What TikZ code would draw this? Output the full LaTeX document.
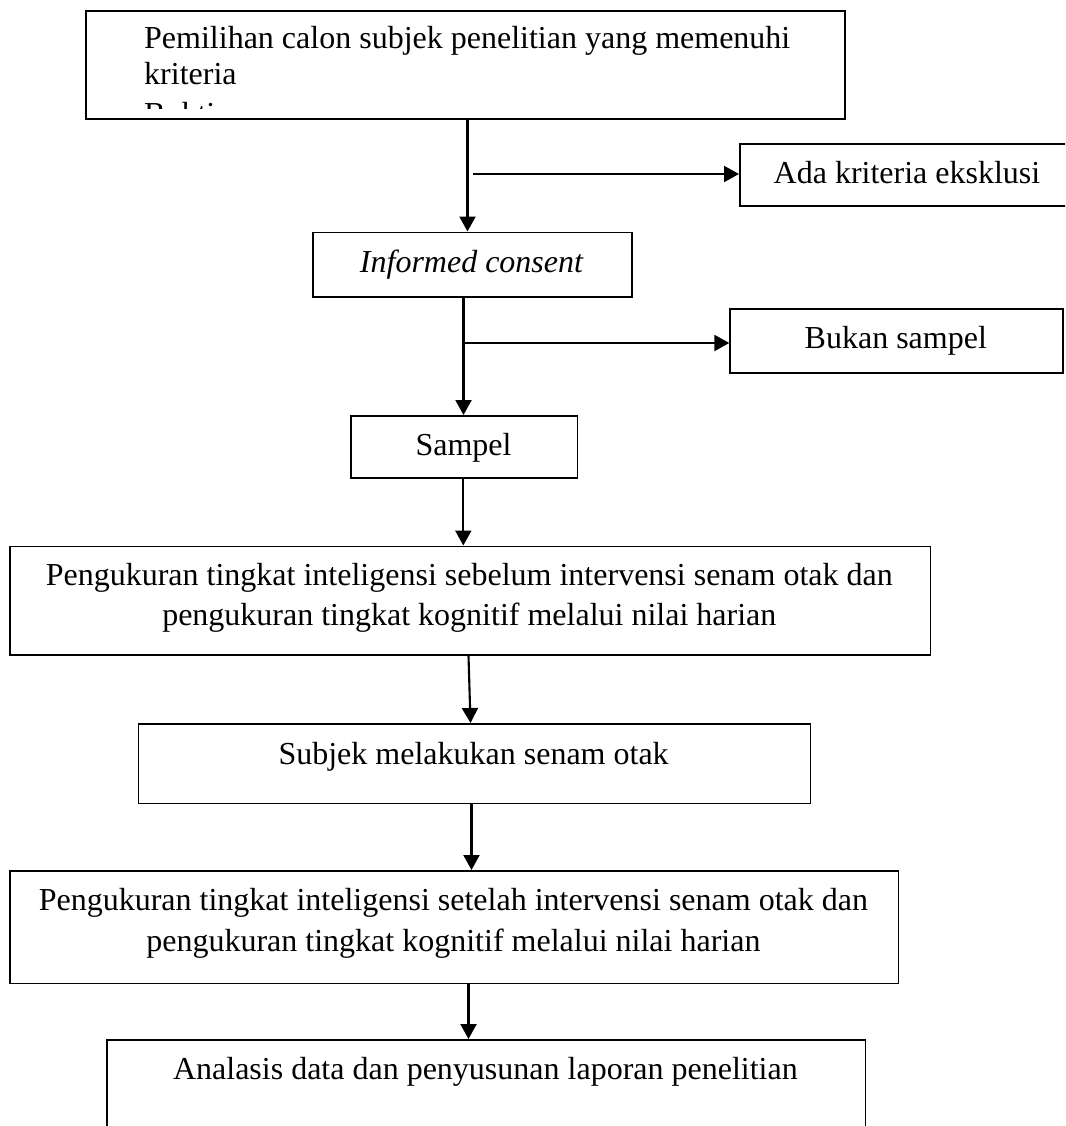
\documentclass[tikz,border=0pt]{standalone}
\usepackage{fontspec}
\setmainfont{Liberation Serif}
\usetikzlibrary{arrows.meta}
\begin{document}
\begin{tikzpicture}[x=1pt,y=-1pt,
  box/.style={draw=black, line width=1.6pt, rectangle, inner sep=0pt, anchor=north west},
  txt/.style={inner sep=0pt, font=\fontsize{32pt}{38pt}\selectfont, anchor=base},
  arr/.style={line width=2.1pt, -{Triangle[length=15pt,width=16pt]}}]
\clip (0,0) rectangle (1065,1126);
\fill[white] (0,0) rectangle (1065,1126);
% boxes
\node[box, minimum width=759pt, minimum height=108pt] (b1) at (85,10) {};
\node[box, minimum width=336pt, minimum height=62pt] (ada) at (739,143) {};
\node[box, minimum width=319pt, minimum height=64.5pt] (b2) at (312,231.5) {};
\node[box, minimum width=333pt, minimum height=64pt] (bukan) at (729.3,308.3) {};
\node[box, minimum width=226.7pt, minimum height=62.3pt] (b3) at (350,415) {};
\node[box, minimum width=920.6pt, minimum height=108.5pt] (b4) at (9,545.5) {};
\node[box, minimum width=671.7pt, minimum height=79.7pt] (b5) at (137.8,723) {};
\node[box, minimum width=888.7pt, minimum height=112.7pt] (b6) at (9,870) {};
\node[box, minimum width=758.7pt, minimum height=130pt] (b7) at (106,1039) {};
% texts
\begin{scope}
\clip (87,12) rectangle (842,108.5);
\node[txt, anchor=base west] (t1a) at (144,49) {Pemilihan calon subjek penelitian yang memenuhi};
\node[txt, anchor=base west] (t1b) at (144,85) {kriteria};
\node[txt, anchor=base west] (t1c) at (144,125) {Bukti};
\end{scope}
\node[txt] (tada) at (907,183) {Ada kriteria eksklusi};
\node[txt] (t2) at (471.5,272.5) {\itshape Informed consent};
\node[txt] (tbukan) at (895.8,348) {Bukan sampel};
\node[txt] (t3) at (463.5,455) {Sampel};
\node[txt] (t4a) at (469.3,585) {Pengukuran tingkat inteligensi sebelum intervensi senam otak dan};
\node[txt] (t4b) at (469.3,625) {pengukuran tingkat kognitif melalui nilai harian};
\node[txt] (t5) at (473.6,764) {Subjek melakukan senam otak};
\node[txt] (t6a) at (453.4,910) {Pengukuran tingkat inteligensi setelah intervensi senam otak dan};
\node[txt] (t6b) at (453.4,951.7) {pengukuran tingkat kognitif melalui nilai harian};
\node[txt] (t7) at (485.4,1079) {Analasis data dan penyusunan laporan penelitian};
% connectors
\draw[arr] (b1.south -| 467.5,0) -- (b2.north -| 467.5,0);
\coordinate (c1) at (473,174);
\draw[arr] (c1) -- (ada.west |- c1);
\draw[arr] (b2.south -| 463.5,0) -- (b3.north -| 463.5,0);
\coordinate (c2) at (463.5,343);
\draw[arr] (c2) -- (bukan.west |- c2);
\draw[arr] (b3.south -| 463.3,0) -- (b4.north -| 463.3,0);
\draw[arr] (b4.south -| 468.5,0) -- (b5.north -| 470.5,0);
\draw[arr] (b5.south -| 471.5,0) -- (b6.north -| 471.5,0);
\draw[arr] (b6.south -| 468.5,0) -- (b7.north -| 468.5,0);
\end{tikzpicture}
\end{document}
